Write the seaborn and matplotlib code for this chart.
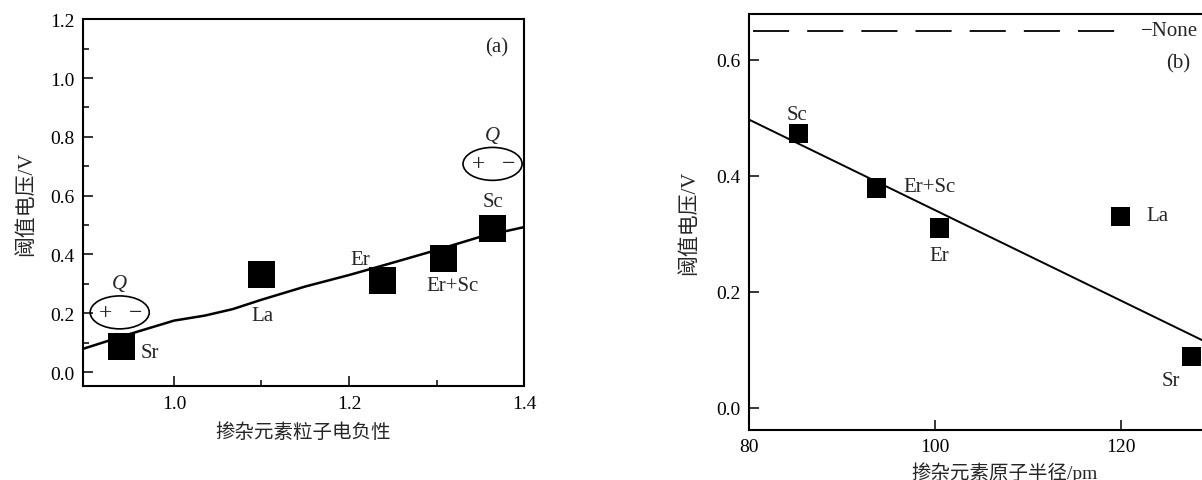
import seaborn as sns
import matplotlib.pyplot as plt
from matplotlib.patches import Ellipse
from matplotlib.ticker import MultipleLocator, FixedLocator, FormatStrFormatter

sns.set_theme(style="white")
plt.rcParams['font.family'] = ['Liberation Serif', 'Noto Sans CJK SC', 'DejaVu Sans']
plt.rcParams['axes.unicode_minus'] = True

# (a) 电负性
elem_a = ["Sr", "La", "Er", "Er+Sc", "Sc"]
eneg = [0.94, 1.10, 1.238, 1.308, 1.364]
volt_a = [0.087, 0.333, 0.31, 0.387, 0.488]
fit_a_x = [0.896, 0.95, 1.0, 1.035, 1.067, 1.1, 1.15, 1.2, 1.25, 1.3, 1.35, 1.4]
fit_a_y = [0.079, 0.13, 0.175, 0.192, 0.214, 0.246, 0.291, 0.33, 0.372, 0.415, 0.46, 0.493]

# (b) 原子半径
elem_b = ["Sc", "Er+Sc", "Er", "La", "Sr"]
radius = [85.3, 93.7, 100.5, 120.0, 127.6]
volt_b = [0.473, 0.379, 0.31, 0.33, 0.088]
fit_b_x = [80, 135]
fit_b_y = [0.497, 0.068]
none_level = 0.65

fig = plt.figure(figsize=(12.02, 4.81), dpi=100)
ax1 = fig.add_axes([0.069, 0.195, 0.367, 0.763])
ax2 = fig.add_axes([0.623, 0.104, 0.4255, 0.865])

# ---- panel (a)
sns.lineplot(x=fit_a_x, y=fit_a_y, color="black", linewidth=1.8, ax=ax1)
sns.scatterplot(x=eneg, y=volt_a, marker="s", s=378, color="black",
                edgecolor="none", ax=ax1, zorder=3)
lab_a = {"Sr": (0.973, 0.068), "La": (1.101, 0.192), "Er": (1.213, 0.384),
         "Er+Sc": (1.318, 0.296), "Sc": (1.364, 0.581)}
for name, (tx, ty) in lab_a.items():
    ax1.text(tx, ty, name, ha="center", va="center", fontsize=15)
ax1.text(1.369, 1.106, "(a)", ha="center", va="center", fontsize=15)

for cx, cy in [(0.938, 0.203), (1.364, 0.708)]:
    ax1.add_patch(Ellipse((cx, cy), 0.0675, 0.112, fill=False,
                          edgecolor="black", linewidth=1.2, clip_on=False))
    ax1.text(cx - 0.016, cy, "+", ha="center", va="center", fontsize=17)
    ax1.text(cx + 0.018, cy, "−", ha="center", va="center", fontsize=17)
    ax1.text(cx, cy + 0.098, "Q", ha="center", va="center", fontsize=15,
             fontstyle="italic")

ax1.set_xlim(0.896, 1.4)
ax1.set_ylim(-0.048, 1.2)
ax1.xaxis.set_major_locator(FixedLocator([1.0, 1.2, 1.4]))
ax1.xaxis.set_minor_locator(FixedLocator([1.1, 1.3]))
ax1.yaxis.set_major_locator(MultipleLocator(0.2))
ax1.yaxis.set_minor_locator(MultipleLocator(0.1))
ax1.xaxis.set_major_formatter(FormatStrFormatter("%.1f"))
ax1.yaxis.set_major_formatter(FormatStrFormatter("%.1f"))
ax1.set_xlabel("掺杂元素粒子电负性", fontsize=14, labelpad=8)
ax1.set_ylabel("阈值电压/V", fontsize=15, labelpad=10)

# ---- panel (b)
sns.lineplot(x=fit_b_x, y=fit_b_y, color="black", linewidth=1.4, ax=ax2)
ax2.plot([80.4, 120.8], [none_level, none_level], color="black",
         linewidth=1.3, dashes=(20, 10))
ax2.text(122.2, none_level, "−None", ha="left", va="center", fontsize=15)
sns.scatterplot(x=radius, y=volt_b, marker="s", s=190, color="black",
                edgecolor="none", ax=ax2, zorder=3)
lab_b = {"Sc": ("center", 85.2, 0.506), "Er+Sc": ("left", 96.6, 0.381),
         "Er": ("center", 100.5, 0.262), "La": ("left", 122.8, 0.331),
         "Sr": ("center", 125.4, 0.047)}
for name, (ha, tx, ty) in lab_b.items():
    ax2.text(tx, ty, name, ha=ha, va="center", fontsize=15)
ax2.text(126.2, 0.595, "(b)", ha="center", va="center", fontsize=15)

ax2.set_xlim(80, 135)
ax2.set_ylim(-0.038, 0.679)
ax2.set_xticks([80, 100, 120])
ax2.set_yticks([0.0, 0.2, 0.4, 0.6])
ax2.yaxis.set_major_formatter(FormatStrFormatter("%.1f"))
ax2.set_xlabel("掺杂元素原子半径/pm", fontsize=14, labelpad=4)
ax2.set_ylabel("阈值电压/V", fontsize=15, labelpad=12)

for ax in (ax1, ax2):
    for sp in ax.spines.values():
        sp.set_color("black")
        sp.set_linewidth(1.5)
    ax.tick_params(which="both", direction="in", colors="black",
                   labelsize=14, left=True, bottom=True, width=1.1)
    ax.tick_params(which="major", length=7, pad=6)
    ax.tick_params(which="minor", length=4)
    ax.grid(False)

fig.savefig("out.png", dpi=100)
